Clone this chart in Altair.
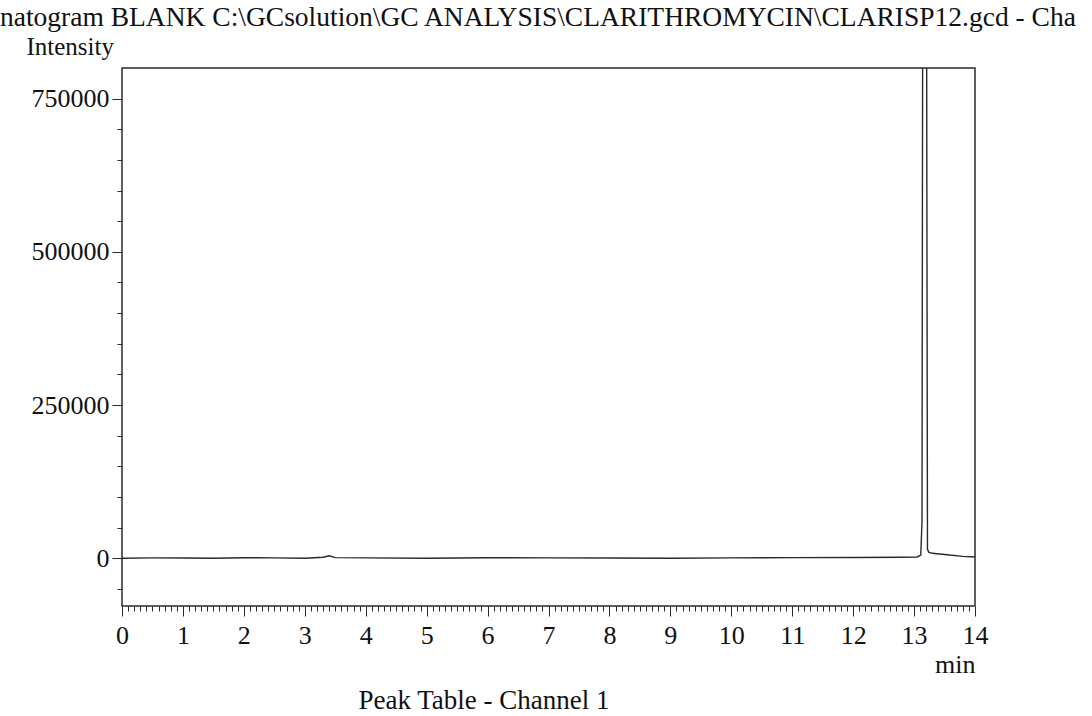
import altair as alt
import pandas as pd

# Chromatogram trace (retention time in min, detector intensity)
time_min = [0.0, 0.5, 1.0, 1.5, 2.0, 2.5, 3.0, 3.3, 3.4, 3.5, 4.0, 5.0, 6.0, 7.0, 8.0,
            9.0, 10.0, 11.0, 12.0, 12.8, 13.05, 13.11, 13.13, 13.17, 13.22, 13.24,
            13.3, 13.5, 13.8, 14.0]
intensity = [0, 500, 300, 0, 800, 500, 0, 1500, 4000, 1000, 500, 0, 800, 500, 300,
             0, 500, 1000, 1200, 1500, 2000, 5000, 60000, 3000000, 15000, 10000,
             8000, 6000, 3000, 2000]

x_major = list(range(0, 15))
x_ticks = [i / 10 for i in range(0, 141)]
y_major = [0, 250000, 500000, 750000]
y_ticks = list(range(-50000, 800000, 50000))

title_text = "natogram BLANK C:\\GCsolution\\GC ANALYSIS\\CLARITHROMYCIN\\CLARISP12.gcd - Cha"
footer_text = "Peak Table - Channel 1"

FONT = "Liberation Serif"
INK = "#2a2a2a"

df = pd.DataFrame({"t": time_min, "v": intensity})

x_axis = alt.Axis(
    values=x_ticks,
    labelExpr="datum.value % 1 === 0 ? '' + datum.value : ''",
    labelOverlap=False,
    labelFlush=False,
    grid=False,
    domain=False,
    tickColor=INK,
    tickWidth=1,
    tickSize={"condition": {"test": "datum.value % 1 === 0", "value": 10}, "value": 5},
    labelFont=FONT,
    labelFontSize=26,
    labelColor="#111",
    labelPadding=6,
    title="min",
    titleFont=FONT,
    titleFontSize=26,
    titleFontWeight="normal",
    titleColor="#111",
    titleAlign="right",
    titleBaseline="alphabetic",
    titleAnchor="end",
    titleX=853,
    titleY=66,
)

y_axis = alt.Axis(
    values=y_ticks,
    labelExpr="datum.value % 250000 === 0 ? '' + datum.value : ''",
    labelOverlap=False,
    labelFlush=False,
    grid=False,
    domain=False,
    tickColor=INK,
    tickWidth=1,
    tickSize={"condition": {"test": "datum.value % 250000 === 0", "value": 10}, "value": 5},
    labelFont=FONT,
    labelFontSize=26,
    labelColor="#111",
    labelPadding=3,
    title="Intensity",
    titleFont=FONT,
    titleFontSize=25,
    titleFontWeight="normal",
    titleColor="#111",
    titleAngle=0,
    titleAlign="left",
    titleBaseline="alphabetic",
    titleX=-96,
    titleY=-14,
)

line = alt.Chart(df).mark_line(color=INK, strokeWidth=1.4, clip=True).encode(
    x=alt.X("t:Q", scale=alt.Scale(domain=[0, 14], nice=False, zero=False), axis=x_axis),
    y=alt.Y("v:Q", scale=alt.Scale(domain=[-78000, 800000], nice=False, zero=False), axis=y_axis),
    order="t:Q",
)

head = alt.Chart(pd.DataFrame({"txt": [title_text]})).mark_text(
    font=FONT, fontSize=27.5, align="left", baseline="alphabetic", color="#111"
).encode(text="txt:N", x=alt.value(-122), y=alt.value(-42))

foot = alt.Chart(pd.DataFrame({"txt": [footer_text]})).mark_text(
    font=FONT, fontSize=27, align="center", baseline="alphabetic", color="#111"
).encode(text="txt:N", x=alt.value(362), y=alt.value(641))

chart = alt.layer(line, head, foot).properties(
    width=853,
    height=538,
    autosize=alt.AutoSizeParams(type="none"),
    padding={"left": 122, "top": 68, "right": 117, "bottom": 110},
    background="white",
).configure_view(stroke=INK, strokeWidth=1.5)

chart.save("out.html", embed_options={"renderer": "svg", "actions": False})
